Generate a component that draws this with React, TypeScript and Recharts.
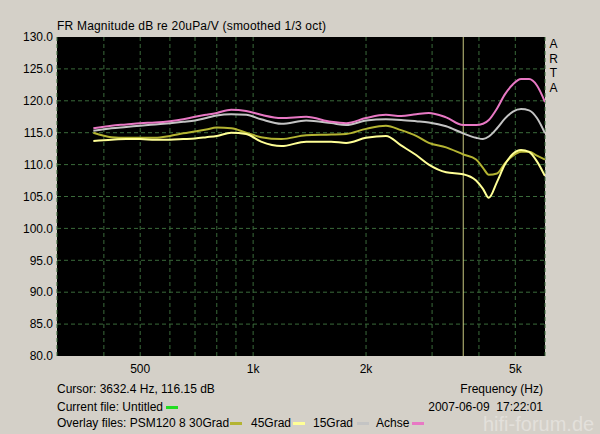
import { LineChart, Line, XAxis, YAxis, CartesianGrid, ReferenceLine } from "recharts"

const freqs = [375, 419, 459, 500, 548, 600, 651, 700, 750, 800, 874, 958, 1050, 1190, 1385, 1615, 1770, 2000, 2260, 2480, 2720, 2940, 3270, 3630, 3930, 4100, 4250, 4470, 4690, 4930, 5180, 5440, 5710, 6000]

const achse = [115.7, 116.1, 116.3, 116.5, 116.6, 116.8, 117.1, 117.5, 117.8, 118.1, 118.6, 118.4, 117.8, 117.3, 117.5, 116.7, 116.5, 117.3, 117.8, 117.6, 117.9, 118.1, 117.4, 116.2, 116.2, 116.4, 117.0, 118.8, 121.0, 122.6, 123.4, 123.4, 122.4, 119.8]
const grad15 = [115.3, 115.7, 115.9, 116.1, 116.3, 116.5, 116.7, 116.9, 117.3, 117.7, 117.9, 117.8, 117.1, 116.4, 116.9, 116.5, 116.2, 116.9, 117.1, 117.0, 116.8, 116.6, 116.0, 114.9, 114.2, 114.0, 114.4, 115.7, 117.2, 118.3, 118.7, 118.5, 117.3, 114.9]
const grad30 = [115.0, 114.3, 114.2, 114.2, 114.2, 114.5, 114.9, 115.2, 115.5, 115.8, 115.7, 115.0, 114.3, 114.0, 114.6, 114.7, 114.8, 115.6, 116.1, 115.4, 114.5, 113.4, 112.7, 111.6, 110.8, 109.5, 108.4, 108.6, 110.2, 111.4, 112.0, 112.0, 111.4, 110.8]
const grad45 = [113.7, 113.9, 114.0, 114.0, 113.9, 113.9, 114.0, 114.1, 114.3, 114.5, 115.0, 114.8, 113.6, 112.9, 113.6, 113.6, 113.4, 114.2, 114.5, 113.0, 111.5, 110.0, 108.8, 108.5, 107.5, 106.2, 104.8, 107.3, 110.0, 111.7, 112.3, 112.0, 110.5, 108.2]

const xGrid = [400, 500, 600, 700, 800, 900, 1000, 2000, 3000, 4000, 5000]
const xLabels: Record<number, string> = { 500: "500", 1000: "1k", 2000: "2k", 5000: "5k" }
const yTicks = [80, 85, 90, 95, 100, 105, 110, 115, 120, 125, 130]
const yGrid = [85, 90, 95, 100, 105, 110, 115, 120, 125]
const cursorFreq = 3632.4

const toData = (vals: number[]) => freqs.map((f, i) => ({ f, v: vals[i] }))

const font = "'Liberation Sans', Arial, sans-serif"

export default function App() {
  const series = [
    { name: "30Grad", vals: grad30, color: "#b4b432" },
    { name: "45Grad", vals: grad45, color: "#ffff96" },
    { name: "15Grad", vals: grad15, color: "#c4c4c4" },
    { name: "Achse", vals: achse, color: "#e878c4" },
  ]

  return (
    <div style={{ position: "relative", width: 600, height: 434, background: "#d4d0c8", fontFamily: font }}>
      <style>{`body{margin:0}`}</style>
      <LineChart width={600} height={434} margin={{ top: 37, right: 55, bottom: 58, left: 0 }}>
        <CartesianGrid fill="#000" stroke="#3a6a3a" strokeDasharray="4 3" horizontalValues={yGrid} />
        <XAxis
          dataKey="f"
          type="number"
          scale="log"
          domain={[300, 6000]}
          ticks={xGrid}
          allowDataOverflow
          height={20}
          axisLine={false}
          tickLine={false}
          tickSize={0}
          tickMargin={8}
          interval={0}
          tickFormatter={(v) => xLabels[v] ?? ""}
          tick={{ fill: "#000", fontSize: 12, fontFamily: font }}
        />
        <YAxis
          type="number"
          domain={[80, 130]}
          ticks={yTicks}
          width={57}
          axisLine={false}
          tickLine={false}
          tickSize={0}
          tickMargin={4}
          interval={0}
          tickFormatter={(v) => Number(v).toFixed(1)}
          tick={{ fill: "#000", fontSize: 12, fontFamily: font }}
        />
        <ReferenceLine x={cursorFreq} stroke="#c8c880" strokeWidth={1} />
        {series.map((s) => (
          <Line
            key={s.name}
            data={toData(s.vals)}
            dataKey="v"
            type="monotone"
            stroke={s.color}
            strokeWidth={2}
            dot={false}
            isAnimationActive={false}
          />
        ))}
      </LineChart>
      <svg width={600} height={434} style={{ position: "absolute", left: 0, top: 0, pointerEvents: "none" }} fontFamily={font} fontSize={12}>
        <text x={57} y={30} fill="#000" letterSpacing={0.2}>FR Magnitude dB re 20uPa/V (smoothed 1/3 oct)</text>
        {["A", "R", "T", "A"].map((c, i) => (
          <text key={i} x={553.5} y={48 + i * 14.6} textAnchor="middle" fill="#000">{c}</text>
        ))}
        <text x={57} y={393} fill="#000">Cursor: 3632.4 Hz, 116.15 dB</text>
        <text x={543} y={393} textAnchor="end" fill="#000">Frequency (Hz)</text>
        <text x={57} y={411} fill="#000">Current file: Untitled</text>
        <rect x={166} y={406} width={12} height={3} fill="#22dd22" />
        <text x={543} y={411} textAnchor="end" fill="#000" style={{ whiteSpace: "pre" }}>2007-06-09  17:22:01</text>
        <text x={57} y={427} fill="#000">Overlay files: PSM120 8 30Grad</text>
        <rect x={230} y={422} width={12} height={3} fill="#b4b432" />
        <text x={251} y={427} fill="#000">45Grad</text>
        <rect x={293} y={422} width={12} height={3} fill="#ffff96" />
        <text x={313} y={427} fill="#000">15Grad</text>
        <rect x={357} y={422} width={12} height={3} fill="#c4c4c4" />
        <text x={376} y={427} fill="#000">Achse</text>
        <rect x={412} y={422} width={12} height={3} fill="#e878c4" />
        <text x={483} y={431} fontSize={20} fill="#ffffff" opacity={0.35}>hifi-forum.de</text>
      </svg>
    </div>
  )
}
